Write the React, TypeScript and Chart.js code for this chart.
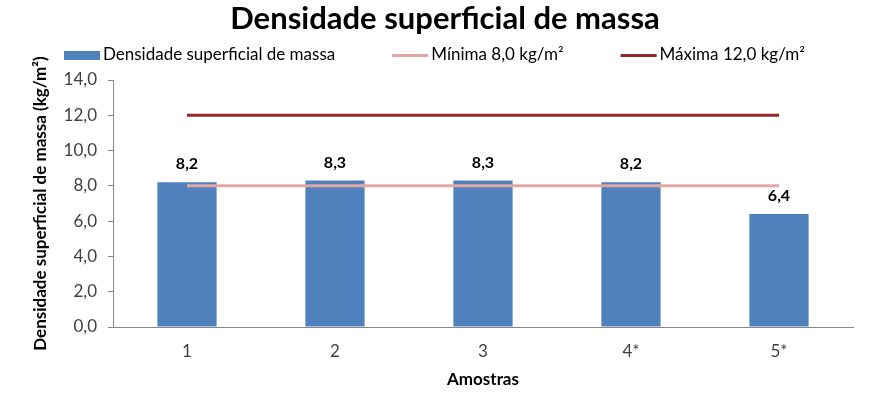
import React, { useEffect, useRef } from "react";
import { Chart, registerables } from "chart.js";

Chart.register(...registerables);

const categories = ["1", "2", "3", "4*", "5*"];
const densityValues = [8.2, 8.3, 8.3, 8.2, 6.4];
const minValues = [8.0, 8.0, 8.0, 8.0, 8.0];
const maxValues = [12.0, 12.0, 12.0, 12.0, 12.0];
const seriesNames = [
  "Densidade superficial de massa",
  "Mínima 8,0 kg/m²",
  "Máxima 12,0 kg/m²",
];
const chartTitle = "Densidade superficial de massa";
const yTitle = "Densidade superficial de massa (kg/m²)";
const xTitle = "Amostras";

const FONT = "Lato, 'Open Sans', sans-serif";
const fmt = (v: number) => v.toFixed(1).replace(".", ",");

const barLabels = {
  id: "barLabels",
  afterDatasetsDraw(chart: any) {
    const meta = chart.getDatasetMeta(0);
    const ctx = chart.ctx;
    ctx.save();
    ctx.font = `bold 16px ${FONT}`;
    ctx.fillStyle = "#000";
    ctx.textAlign = "center";
    ctx.textBaseline = "middle";
    meta.data.forEach((el: any, i: number) => {
      ctx.fillText(fmt(densityValues[i]), el.x, el.y - 18);
    });
    ctx.restore();
  },
};

const titleAndLegend = {
  id: "titleAndLegend",
  afterDraw(chart: any) {
    const ctx = chart.ctx;
    ctx.save();
    // title
    ctx.font = `bold 31px ${FONT}`;
    ctx.fillStyle = "#000";
    ctx.textAlign = "center";
    ctx.textBaseline = "alphabetic";
    ctx.fillText(chartTitle, 445, 29);
    // legend
    ctx.font = `17px ${FONT}`;
    const markerW = 36;
    const gap = 3;
    const spacing = 57;
    const widths = seriesNames.map((t) => ctx.measureText(t).width);
    const total =
      widths.reduce((a, w) => a + markerW + gap + w, 0) + spacing * (seriesNames.length - 1);
    let x = 434.5 - total / 2;
    const cy = 55.5;
    chart.data.datasets.forEach((ds: any, i: number) => {
      if (i === 0) {
        ctx.fillStyle = ds.backgroundColor;
        ctx.fillRect(x, cy - 4.5, markerW, 9);
      } else {
        ctx.strokeStyle = ds.borderColor;
        ctx.lineWidth = 3;
        ctx.beginPath();
        ctx.moveTo(x, cy);
        ctx.lineTo(x + markerW, cy);
        ctx.stroke();
      }
      ctx.fillStyle = "#000";
      ctx.textAlign = "left";
      ctx.fillText(ds.label, x + markerW + gap, 60);
      x += markerW + gap + widths[i] + spacing;
    });
    ctx.restore();
  },
};

export default function App() {
  const ref = useRef<HTMLCanvasElement | null>(null);
  useEffect(() => {
    if (!ref.current) return;
    const chart = new Chart(ref.current, {
      type: "bar",
      data: {
        labels: categories,
        datasets: [
          {
            type: "bar",
            label: seriesNames[0],
            data: densityValues,
            backgroundColor: "#4F81BD",
            borderColor: "#4F81BD",
            borderWidth: 0,
            barPercentage: 0.4,
            categoryPercentage: 1,
            order: 3,
          } as any,
          {
            type: "line",
            label: seriesNames[1],
            data: minValues,
            borderColor: "#E3A6A3",
            backgroundColor: "#E3A6A3",
            borderWidth: 3,
            pointRadius: 0,
            order: 2,
          } as any,
          {
            type: "line",
            label: seriesNames[2],
            data: maxValues,
            borderColor: "#8E2A2A",
            backgroundColor: "#8E2A2A",
            borderWidth: 3,
            pointRadius: 0,
            order: 1,
          } as any,
        ],
      },
      options: {
        responsive: false,
        animation: false,
        layout: { padding: { left: 0, right: 16, top: 80, bottom: 20 } },
        plugins: {
          title: { display: false },
          legend: { display: false },
          tooltip: { enabled: false },
        },
        scales: {
          x: {
            grid: { display: true, drawOnChartArea: false, drawTicks: false, color: "#888" },
            border: { display: true, color: "#888" },
            ticks: { color: "#404040", font: { family: FONT, size: 17 }, padding: 14 },
            title: {
              display: true,
              text: xTitle,
              color: "#000",
              font: { family: FONT, size: 17, weight: "bold" },
              padding: { top: 0, bottom: 8 },
            },
            afterFit: (s: any) => {
              s.height = 71;
            },
          },
          y: {
            min: 0,
            max: 14,
            grid: { display: true, drawOnChartArea: false, drawTicks: true, tickLength: 5, color: "#888" },
            border: { display: true, color: "#888" },
            ticks: {
              stepSize: 2,
              color: "#404040",
              font: { family: FONT, size: 17 },
              padding: 11,
              callback: (v: any) => fmt(Number(v)),
            },
            title: {
              display: true,
              text: yTitle,
              color: "#000",
              font: { family: FONT, size: 17, weight: "bold" },
              padding: { top: 30, bottom: 0 },
            },
            afterFit: (s: any) => {
              s.width = 113;
            },
          },
        },
      },
      plugins: [barLabels, titleAndLegend],
    });
    return () => chart.destroy();
  }, []);
  return (
    <div style={{ position: "absolute", left: 0, top: 0, width: 869, height: 418, background: "#fff" }}>
      <canvas ref={ref} width={869} height={418} />
    </div>
  );
}
